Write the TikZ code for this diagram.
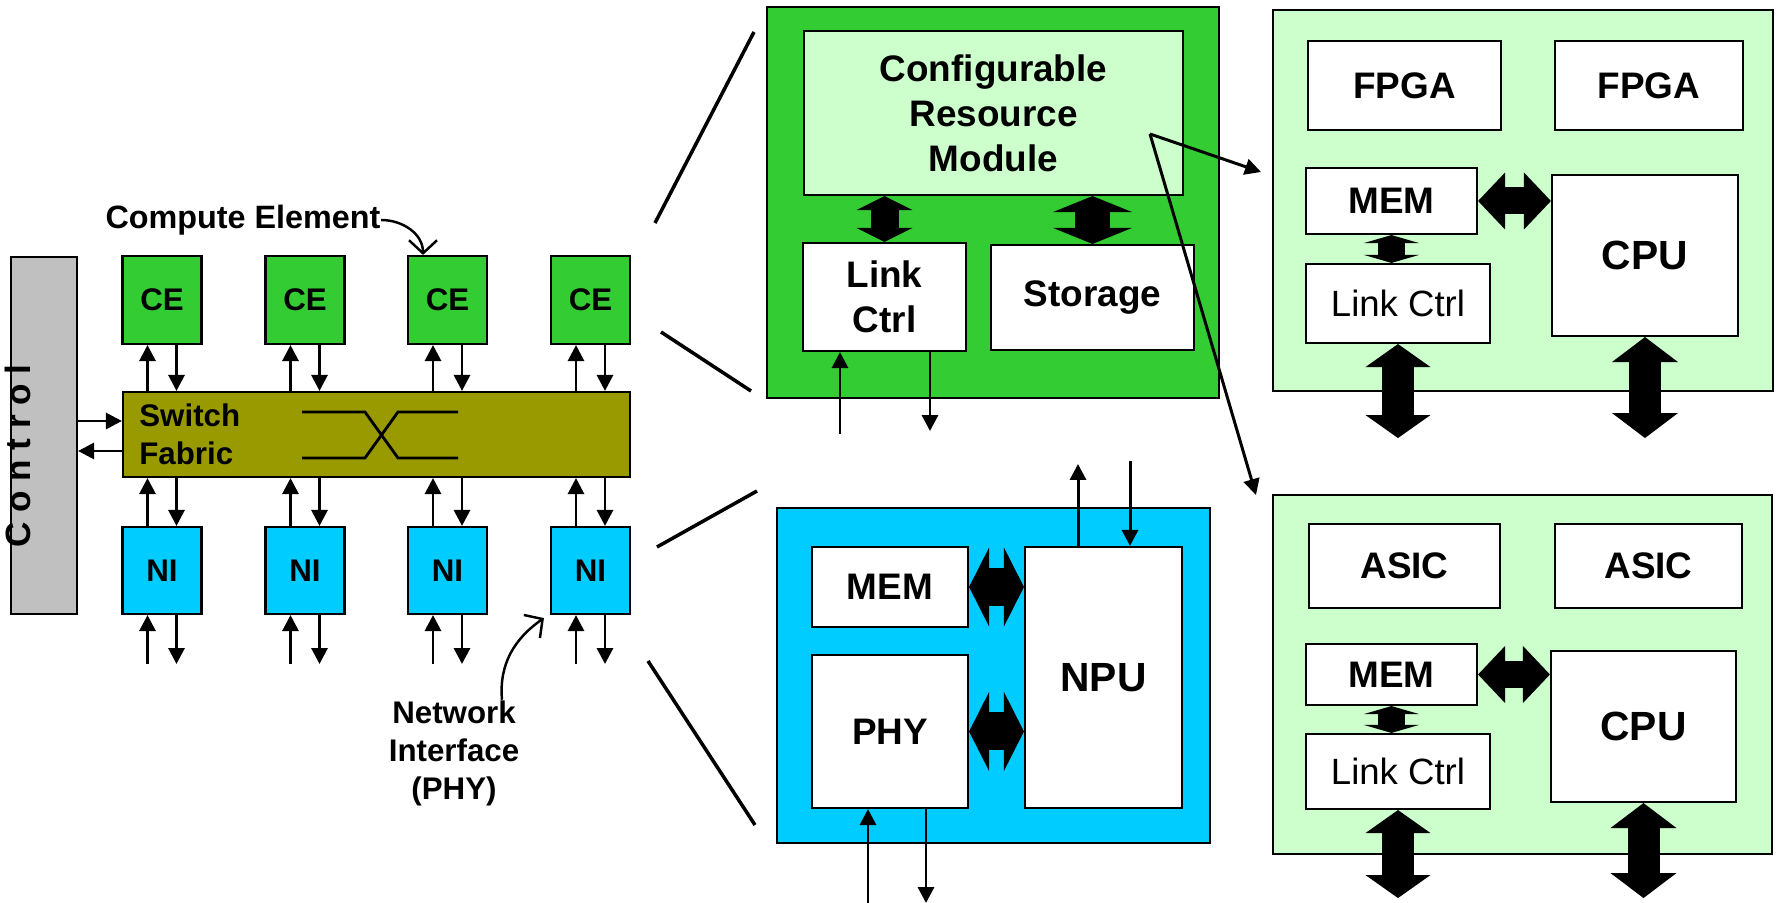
\documentclass[tikz,border=0pt]{standalone}
\usepackage{fontspec}
\setmainfont{Liberation Sans}
\usetikzlibrary{arrows.meta, positioning, calc}
\definecolor{ceGreen}{HTML}{33CC33}
\definecolor{niBlue}{HTML}{00CCFF}
\definecolor{fabricOlive}{HTML}{999900}
\definecolor{ctrlGray}{HTML}{C0C0C0}
\definecolor{paleGreen}{HTML}{CCFFCC}

\begin{document}
\begin{tikzpicture}[
  flow/.style={-{Triangle[length=1.6mm,width=1.6mm]}, line width=0.85pt},
  pointer/.style={-{Straight Barb[length=1.3mm,width=2.8mm]}, line width=0.7pt},
  fat/.style n args={3}{line width=#1,
    {Triangle[length=#2,width=#3,line width=0pt]}-{Triangle[length=#2,width=#3,line width=0pt]}},
  zoomline/.style={line width=1pt},
  blk/.style={draw, line width=0.6pt, inner sep=0pt, align=center},
  txtS/.style={font=\fontsize{8.9}{10.8}\selectfont\bfseries},
  txtM/.style={font=\fontsize{10.5}{12.8}\selectfont\bfseries},
  txtL/.style={font=\fontsize{11.6}{14}\selectfont\bfseries},
  txtR/.style={font=\fontsize{10.4}{12.5}\selectfont}
]
  \useasboundingbox (0,0) rectangle (17.77,9.03);

  % Control bar
  \node[blk, fill=ctrlGray, minimum width=0.66cm, minimum height=3.57cm] (control) at (0.44,4.675) {};
  \node[txtS, font=\fontsize{10}{12}\selectfont\bfseries, rotate=90] (controlTxt) at (0.18,4.47) {C o n t r o l};

  % Switch fabric
  \node[blk, fill=fabricOlive, minimum width=5.07cm, minimum height=0.85cm] (fabric) at (3.765,4.685) {};
  \node[txtS, align=left, anchor=west] (fabricTxt) at ([xshift=0.5mm]fabric.west) {Switch\\Fabric};
  \draw[line width=0.8pt] (3.02,4.91) -- (3.65,4.91) -- (3.98,4.45) -- (4.58,4.45);
  \draw[line width=0.8pt] (3.02,4.45) -- (3.65,4.45) -- (3.98,4.91) -- (4.58,4.91);

  \coordinate (ctlIn) at ([yshift=1.35mm]fabric.west);
  \coordinate (ctlOut) at ([yshift=-1.65mm]fabric.west);
  \draw[flow] (control.east |- ctlIn) -- (ctlIn);
  \draw[flow] (ctlOut) -- (control.east |- ctlOut);

  % Compute elements and network interfaces
  \foreach \i/\x in {1/1.62, 2/3.05, 3/4.475, 4/5.905} {
    \node[blk, fill=ceGreen, txtS, minimum width=0.79cm, minimum height=0.88cm] (ce\i) at (\x,6.03) {CE};
    \node[blk, fill=niBlue, txtS, minimum width=0.79cm, minimum height=0.87cm] (ni\i) at (\x,3.325) {NI};
    \coordinate (ceUp\i) at ([xshift=-1.45mm]ce\i.south);
    \coordinate (ceDn\i) at ([xshift=1.45mm]ce\i.south);
    \coordinate (niUp\i) at ([xshift=-1.45mm]ni\i.north);
    \coordinate (niDn\i) at ([xshift=1.45mm]ni\i.north);
    \draw[flow] (ceUp\i |- fabric.north) -- (ceUp\i);
    \draw[flow] (ceDn\i) -- (ceDn\i |- fabric.north);
    \draw[flow] (niUp\i) -- (niUp\i |- fabric.south);
    \draw[flow] (niDn\i |- fabric.south) -- (niDn\i);
    \draw[flow] ([xshift=-1.45mm]ni\i.south) ++(0,-0.49) -- ([xshift=-1.45mm]ni\i.south);
    \draw[flow] ([xshift=1.45mm]ni\i.south) -- ++(0,-0.49);
  }

  \node[txtS, font=\fontsize{9.2}{11}\selectfont\bfseries, inner sep=0pt] (ceNote) at (2.43,6.83) {Compute Element};
  \draw[pointer] (ceNote.east) to[out=0, in=90] ([xshift=-2.45mm]ce3.north);
  \node[txtS, inner sep=0pt, align=center] (phyNote) at (4.54,1.50) {Network\\Interface\\(PHY)};
  \draw[pointer] ([xshift=4.8mm]phyNote.north) to[out=95, in=215] ([shift={(-0.6mm,-0.3mm)}]ni4.south west);

  % Zoom lines
  \draw[zoomline] (6.55,6.80) -- (7.54,8.71);
  \draw[zoomline] (6.61,5.71) -- (7.51,5.12);
  \draw[zoomline] (6.57,3.56) -- (7.57,4.12);
  \draw[zoomline] (6.48,2.42) -- (7.55,0.78);

  % Configurable resource module
  \node[blk, fill=ceGreen, minimum width=4.52cm, minimum height=3.91cm] (crmPanel) at (9.93,7.005) {};
  \node[blk, fill=paleGreen, txtM, minimum width=3.79cm, minimum height=1.64cm] (crm) at (9.935,7.90) {Configurable\\Resource\\Module};
  \node[blk, fill=white, txtM, minimum width=1.63cm, minimum height=1.08cm] (linkCrm) at (8.845,6.06) {Link\\Ctrl};
  \node[blk, fill=white, txtM, minimum width=2.03cm, minimum height=1.05cm] (storage) at (10.925,6.055) {Storage\vphantom{k}};
  \draw[fat={2.8mm}{1.4mm}{5.6mm}] (linkCrm.north |- crm.south) -- (linkCrm.north);
  \draw[fat={3.5mm}{1.6mm}{7.9mm}] (storage.north |- crm.south) -- (storage.north);
  \draw[flow] ([xshift=-4.45mm]linkCrm.south) ++(0,-0.82) -- ([xshift=-4.45mm]linkCrm.south);
  \draw[flow] ([xshift=4.55mm]linkCrm.south) -- ++(0,-0.79);

  % Network interface detail
  \node[blk, fill=niBlue, minimum width=4.33cm, minimum height=3.35cm] (niPanel) at (9.935,2.275) {};
  \node[blk, fill=white, txtM, minimum width=1.56cm, minimum height=0.80cm] (memNi) at (8.90,3.16) {MEM};
  \node[blk, fill=white, txtM, minimum width=1.56cm, minimum height=1.53cm] (phy) at (8.90,1.715) {PHY};
  \node[blk, fill=white, txtL, minimum width=1.57cm, minimum height=2.61cm] (npu) at (11.035,2.255) {NPU};
  \draw[fat={3.8mm}{2mm}{7.9mm}] (memNi.east) -- (memNi.east -| npu.west);
  \draw[fat={3.8mm}{2mm}{7.9mm}] (phy.east) -- (phy.east -| npu.west);
  \draw[flow] ([xshift=-2.55mm]npu.north) -- ++(0,0.82);
  \draw[flow] ([xshift=2.65mm]npu.north) ++(0,0.85) -- ([xshift=2.65mm]npu.north);
  \draw[flow] ([xshift=-2.2mm]phy.south) ++(0,-0.95) -- ([xshift=-2.2mm]phy.south);
  \draw[flow] ([xshift=3.6mm]phy.south) -- ++(0,-0.94);

  % FPGA board
  \node[blk, fill=paleGreen, minimum width=5.00cm, minimum height=3.81cm] (fpgaPanel) at (15.23,7.025) {};
  \node[blk, fill=white, txtM, minimum width=1.93cm, minimum height=0.89cm] (fpgaA) at (14.045,8.175) {FPGA};
  \node[blk, fill=white, txtM, minimum width=1.88cm, minimum height=0.89cm] (fpgaB) at (16.49,8.175) {FPGA};
  \node[blk, fill=white, txtM, minimum width=1.71cm, minimum height=0.66cm] (memFpga) at (13.915,7.02) {MEM};
  \node[blk, fill=white, txtR, minimum width=1.84cm, minimum height=0.79cm] (linkFpga) at (13.98,5.995) {Link Ctrl};
  \node[blk, fill=white, txtL, minimum width=1.86cm, minimum height=1.61cm] (cpuFpga) at (16.45,6.475) {CPU};
  \draw[fat={2.7mm}{2.7mm}{5.7mm}] (memFpga.east) -- (memFpga.east -| cpuFpga.west);
  \draw[fat={2.7mm}{0.8mm}{5.5mm}] (memFpga.south) -- (memFpga.south |- linkFpga.north);
  \draw[fat={3.2mm}{2.3mm}{6.5mm}] (linkFpga.south) -- ++(0,-0.94);
  \draw[fat={3.2mm}{2.5mm}{6.6mm}] (cpuFpga.south) -- ++(0,-1.01);

  % ASIC board
  \node[blk, fill=paleGreen, minimum width=4.99cm, minimum height=3.59cm] (asicPanel) at (15.225,2.285) {};
  \node[blk, fill=white, txtM, minimum width=1.91cm, minimum height=0.84cm] (asicA) at (14.045,3.37) {ASIC};
  \node[blk, fill=white, txtM, minimum width=1.87cm, minimum height=0.84cm] (asicB) at (16.485,3.37) {ASIC};
  \node[blk, fill=white, txtM, minimum width=1.71cm, minimum height=0.61cm] (memAsic) at (13.915,2.285) {MEM};
  \node[blk, fill=white, txtR, minimum width=1.84cm, minimum height=0.75cm] (linkAsic) at (13.98,1.315) {Link Ctrl};
  \node[blk, fill=white, txtL, minimum width=1.85cm, minimum height=1.51cm] (cpuAsic) at (16.435,1.765) {CPU};
  \draw[fat={2.7mm}{2.7mm}{5.7mm}] (memAsic.east) -- (memAsic.east -| cpuAsic.west);
  \draw[fat={2.7mm}{0.8mm}{5.5mm}] (memAsic.south) -- (memAsic.south |- linkAsic.north);
  \draw[fat={3.2mm}{2.3mm}{6.5mm}] (linkAsic.south) -- ++(0,-0.88);
  \draw[fat={3.2mm}{2.5mm}{6.6mm}] (cpuAsic.south) -- ++(0,-0.95);

  % Pointers from the module to the boards
  \coordinate (crmTap) at (11.50,7.69);
  \coordinate (fpgaHit) at (12.61,7.31);
  \coordinate (asicHit) at (12.56,4.08);
  \draw[flow] (crmTap) -- (fpgaHit);
  \draw[flow] (crmTap) -- (asicHit);
\end{tikzpicture}
\end{document}
